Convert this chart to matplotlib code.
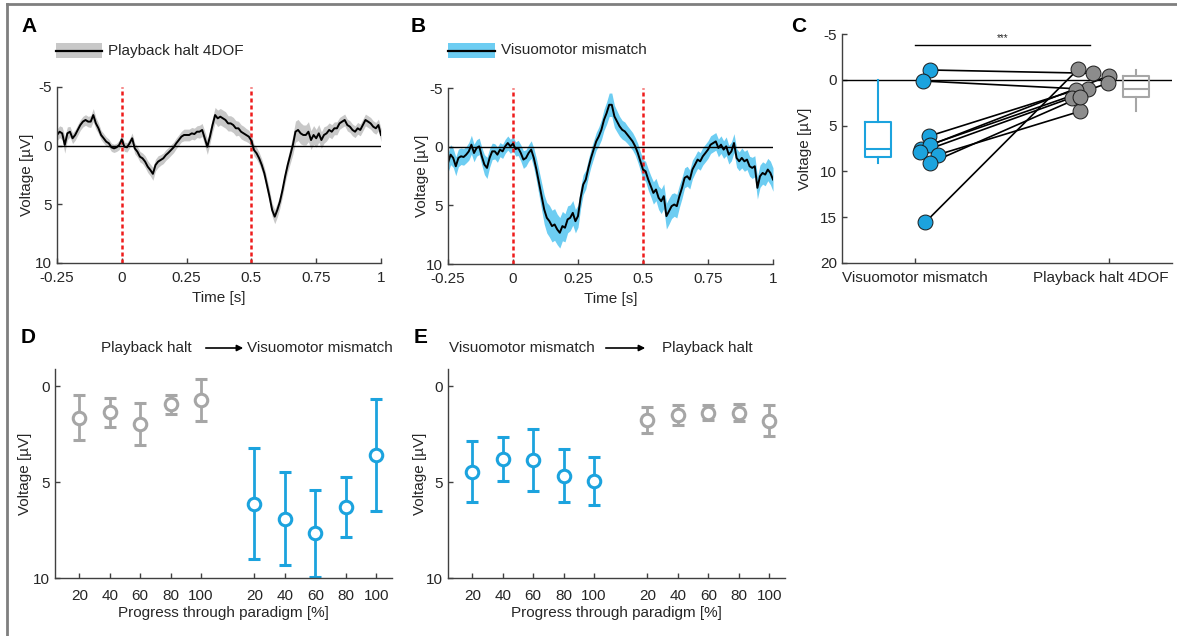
import numpy as np
import matplotlib
matplotlib.use("Agg")
import matplotlib.pyplot as plt
import matplotlib.transforms as mtransforms
from matplotlib.lines import Line2D
from matplotlib.patches import Rectangle, FancyArrowPatch

plt.rcParams["font.family"] = ["Liberation Sans", "DejaVu Sans"]
plt.rcParams["font.size"] = 11
plt.rcParams["axes.unicode_minus"] = False

# ---- panel A / B traces (uV, sampled every 10 ms from -0.25 to 1.0 s) ----
time_start, time_stop, time_step = -0.25, 1.0, 0.01

playback_mean = [
    -0.91, -1.19, -1.05, -0.06, -1.05, -1.19, -0.63, -0.91, -1.34, -1.76,
    -2.05, -2.19, -2.05, -2.05, -2.61, -1.90, -1.48, -0.91, -0.63, -0.34,
    -0.20, 0.14, 0.23, 0.14, -0.06, -0.54, 0.09, 0.14, -0.20, -0.63,
    0.23, 0.51, 0.94, 1.08, 1.36, 1.79, 2.07, 2.40, 1.65, 1.36,
    1.22, 1.08, 0.80, 0.60, 0.37, 0.14, -0.20, -0.48, -0.77, -0.91,
    -0.91, -0.91, -1.05, -0.99, -1.19, -1.19, -1.34, -0.63, 0.09, -0.77,
    -1.76, -2.61, -2.33, -2.47, -2.33, -2.19, -1.90, -1.90, -1.76, -1.48,
    -1.48, -1.19, -1.05, -0.91, -0.77, -0.43, 0.37, 0.65, 1.08, 1.65,
    2.36, 3.35, 4.35, 5.48, 6.05, 5.48, 4.77, 3.78, 2.64, 1.65,
    0.80, -0.06, -1.19, -1.34, -1.05, -0.91, -0.91, -1.19, -0.48, -0.91,
    -0.63, -1.05, -0.48, -0.91, -1.05, -1.34, -1.19, -1.48, -1.48, -1.90,
    -2.05, -2.19, -1.76, -1.62, -1.34, -1.19, -1.48, -1.34, -1.76, -2.19,
    -2.05, -1.90, -1.62, -1.48, -1.76, -0.91,
]
playback_sem = [
    0.50, 0.50, 0.55, 0.70, 0.55, 0.45, 0.45, 0.45, 0.45, 0.45,
    0.45, 0.45, 0.45, 0.50, 0.55, 0.50, 0.45, 0.40, 0.40, 0.40,
    0.35, 0.35, 0.35, 0.35, 0.40, 0.45, 0.40, 0.40, 0.40, 0.45,
    0.45, 0.45, 0.45, 0.45, 0.50, 0.50, 0.50, 0.55, 0.50, 0.50,
    0.45, 0.45, 0.45, 0.45, 0.45, 0.45, 0.45, 0.45, 0.45, 0.50,
    0.50, 0.50, 0.50, 0.50, 0.50, 0.55, 0.55, 0.60, 0.65, 0.60,
    0.60, 0.65, 0.70, 0.70, 0.70, 0.70, 0.65, 0.65, 0.65, 0.65,
    0.60, 0.60, 0.60, 0.55, 0.55, 0.50, 0.50, 0.50, 0.50, 0.50,
    0.50, 0.55, 0.55, 0.55, 0.60, 0.60, 0.55, 0.55, 0.55, 0.60,
    0.70, 0.80, 0.90, 0.90, 0.90, 0.85, 0.85, 0.85, 0.80, 0.80,
    0.75, 0.75, 0.70, 0.70, 0.65, 0.60, 0.60, 0.55, 0.55, 0.50,
    0.50, 0.50, 0.50, 0.50, 0.50, 0.50, 0.50, 0.50, 0.50, 0.50,
    0.50, 0.50, 0.50, 0.50, 0.50, 0.55,
]

mismatch_mean = [
    1.39, 0.68, 0.96, 1.67, 0.96, 0.82, 0.88, 0.68, 0.40, -0.17,
    0.54, 0.11, -0.03, 0.82, 1.53, 1.81, 0.96, 0.40, 0.40, 0.68,
    0.25, 0.40, -0.03, -0.31, -0.03, -0.25, 0.20, 0.11, 0.54, 1.10,
    0.96, 0.54, 0.25, 0.96, 1.95, 3.09, 4.22, 5.35, 6.06, 6.35,
    6.77, 6.63, 7.05, 7.34, 6.77, 6.91, 6.20, 6.06, 5.64, 6.35,
    5.92, 4.36, 3.23, 2.80, 1.81, 0.96, 0.25, -0.45, -0.88, -1.44,
    -2.29, -2.86, -3.57, -3.57, -2.58, -2.15, -1.73, -1.44, -1.30, -1.02,
    -0.74, -0.45, -0.03, 0.54, 1.25, 1.95, 2.10, 2.80, 3.37, 3.94,
    3.65, 4.36, 4.65, 4.22, 5.92, 5.50, 5.07, 4.93, 5.07, 4.22,
    3.51, 2.66, 2.52, 2.80, 1.95, 1.53, 1.10, 1.25, 0.82, 0.54,
    0.25, -0.17, -0.31, -0.45, 0.11, -0.17, 0.25, -0.03, 0.68, 0.40,
    -0.31, 0.96, 1.25, 0.96, 1.25, 1.10, 1.67, 1.81, 1.67, 3.51,
    2.52, 2.24, 2.38, 1.95, 2.24, 2.80,
]
mismatch_sem = [
    0.80, 0.85, 0.80, 0.80, 0.75, 0.70, 0.70, 0.70, 0.75, 0.80,
    0.75, 0.70, 0.70, 0.75, 0.85, 0.90, 0.80, 0.70, 0.65, 0.65,
    0.60, 0.60, 0.60, 0.60, 0.60, 0.60, 0.60, 0.65, 0.70, 0.75,
    0.70, 0.70, 0.75, 0.85, 0.95, 1.05, 1.15, 1.25, 1.30, 1.35,
    1.35, 1.35, 1.30, 1.30, 1.25, 1.20, 1.15, 1.10, 1.05, 1.00,
    0.95, 0.90, 0.85, 0.80, 0.75, 0.75, 0.75, 0.75, 0.80, 0.85,
    0.90, 0.95, 1.00, 1.00, 0.95, 0.90, 0.85, 0.80, 0.80, 0.75,
    0.75, 0.75, 0.75, 0.80, 0.80, 0.85, 0.85, 0.90, 0.90, 0.95,
    0.95, 1.00, 1.05, 1.05, 1.10, 1.10, 1.05, 1.00, 1.00, 0.95,
    0.90, 0.85, 0.85, 0.80, 0.80, 0.75, 0.75, 0.75, 0.75, 0.75,
    0.75, 0.75, 0.75, 0.75, 0.75, 0.75, 0.75, 0.80, 0.80, 0.80,
    0.80, 0.80, 0.80, 0.85, 0.85, 0.85, 0.85, 0.90, 0.90, 0.95,
    0.95, 0.95, 0.95, 0.95, 1.00, 1.00,
]

# ---- panel C: paired responses per animal ----
paired_vm = [-1.07, 0.13, 6.17, 7.52, 7.08, 7.92, 8.17, 9.08, 15.56]
paired_ph = [-0.71, 1.04, 1.11, -0.45, 0.35, 1.95, 3.44, 1.91, -1.18]
paired_vm_jitter = [0.079, 0.040, 0.070, 0.031, 0.079, 0.026, 0.120, 0.079, 0.053]
paired_ph_jitter = [-0.084, -0.110, -0.170, 0.002, -0.003, -0.192, -0.149, -0.149, -0.158]
# whislo, q1, median, q3, whishi
box_vm = [0.0, 4.61, 7.55, 8.43, 9.08]
box_ph = [-1.10, -0.45, 1.00, 1.91, 3.44]
categories_c = ["Visuomotor mismatch", "Playback halt 4DOF"]

# ---- panels D / E: responses across the session ----
progress = [20, 40, 60, 80, 100]
d_playback_mean = [1.65, 1.35, 1.96, 0.94, 0.73]
d_playback_err = [1.17, 0.76, 1.10, 0.50, 1.10]
d_mismatch_mean = [6.12, 6.90, 7.66, 6.31, 3.59]
d_mismatch_err = [2.90, 2.42, 2.27, 1.56, 2.93]
e_mismatch_mean = [4.45, 3.81, 3.85, 4.66, 4.94]
e_mismatch_err = [1.60, 1.14, 1.60, 1.40, 1.27]
e_playback_mean = [1.77, 1.49, 1.37, 1.37, 1.80]
e_playback_err = [0.67, 0.52, 0.37, 0.43, 0.80]

BLUE = "#1ca3de"
BAND_BLUE = "#6dcdf2"
GRAY = "#a6a6a6"
BAND_GRAY = "#c8c8c8"
DOT_GRAY = "#8c8c8c"
SPINE = "#404040"
TEXT = "#262626"

W, H = 1177, 636


def px(x, y):
    # pixel position (from top-left) to figure fraction
    return x / W, 1 - y / H


def style_axis(ax, xpad=5):
    for side in ["top", "right"]:
        ax.spines[side].set_visible(False)
    for side in ["left", "bottom"]:
        ax.spines[side].set_color(SPINE)
        ax.spines[side].set_linewidth(1.0)
    ax.tick_params(direction="in", length=3.5, width=1.0, color=SPINE,
                   labelsize=11, labelcolor=TEXT)
    ax.tick_params(axis="x", pad=xpad)


def add_axes(fig, left, top, right, bottom):
    x0, y0 = px(left, bottom)
    x1, y1 = px(right, top)
    return fig.add_axes([x0, y0, x1 - x0, y1 - y0])


def trace_panel(ax, mean, sem, band_color):
    t = np.round(np.arange(time_start, time_stop + time_step / 2, time_step), 2)
    mean = np.array(mean)
    sem = np.array(sem)
    ax.fill_between(t, mean - sem, mean + sem, color=band_color, lw=0)
    ax.axhline(0, color="black", lw=1.0)
    for onset in [0, 0.5]:
        ax.axvline(onset, color="#ee1c1c", lw=1.8, ls=(0, (1.6, 1.2)))
    ax.plot(t, mean, color="black", lw=1.4)
    ax.set_xlim(-0.25, 1.0)
    ax.set_ylim(10, -5)
    ax.set_xticks([-0.25, 0, 0.25, 0.5, 0.75, 1])
    ax.set_xticklabels(["-0.25", "0", "0.25", "0.5", "0.75", "1"])
    ax.set_yticks([-5, 0, 5, 10])
    ax.set_xlabel("Time [s]", color=TEXT)
    ax.set_ylabel("Voltage [µV]", color=TEXT)
    ax.xaxis.set_label_coords(0.5, -0.16)
    style_axis(ax, xpad=6)


def legend_swatch(fig, x0, x1, y, band_color, label):
    fx0, fy0 = px(x0, y + 7.5)
    fx1, fy1 = px(x1, y - 7.5)
    fig.add_artist(Rectangle((fx0, fy0), fx1 - fx0, fy1 - fy0,
                             transform=fig.transFigure, color=band_color, lw=0))
    lx0, ly = px(x0, y)
    lx1, _ = px(x1, y)
    fig.add_artist(Line2D([lx0, lx1], [ly, ly], transform=fig.transFigure,
                          color="black", lw=1.6))
    tx, _ = px(x1 + 6, y)
    fig.text(tx, ly, label, va="center", ha="left", fontsize=11, color=TEXT)


def progress_panel(ax, groups):
    for offset, mean, err, color in groups:
        x = np.arange(len(progress)) + 1 + offset
        ax.errorbar(x, mean, yerr=err, fmt="o", ms=9, mfc="white",
                    mec=color, mew=2.2, ecolor=color, elinewidth=2.0,
                    capsize=4.5, capthick=2.0, clip_on=True)
    ticks = list(np.arange(5) + 1) + list(np.arange(5) + 6.75)
    ax.set_xticks(ticks)
    ax.set_xticklabels([str(p) for p in progress] * 2)
    ax.set_xlim(0.2, 11.27)
    ax.set_ylim(10, -0.9)
    ax.set_yticks([0, 5, 10])
    ax.set_xlabel("Progress through paradigm [%]", color=TEXT)
    ax.set_ylabel("Voltage [µV]", color=TEXT)
    ax.xaxis.set_label_coords(0.5, -0.135)
    style_axis(ax, xpad=8)


def header(fig, left_text, right_text, x_left_end, arrow_x0, arrow_x1, x_right_start, y):
    lx, ly = px(x_left_end, y)
    fig.text(lx, ly, left_text, ha="right", va="center", fontsize=11, color=TEXT)
    rx, _ = px(x_right_start, y)
    fig.text(rx, ly, right_text, ha="left", va="center", fontsize=11, color=TEXT)
    a0, _ = px(arrow_x0, y)
    a1, _ = px(arrow_x1, y)
    fig.add_artist(FancyArrowPatch(
        (a0, ly), (a1, ly), transform=fig.transFigure, arrowstyle="-|>",
        mutation_scale=9, color="black", lw=1.2))


fig = plt.figure(figsize=(W / 100, H / 100), dpi=100)

# outer frame (top and left edges only)
fx, fy = px(7, 4)
fig.add_artist(Line2D([fx, 1], [fy, fy], transform=fig.transFigure, color="#7f7f7f", lw=2))
fig.add_artist(Line2D([fx, fx], [0, fy], transform=fig.transFigure, color="#7f7f7f", lw=2))

# panel A
ax_a = add_axes(fig, 57, 87, 381, 263)
trace_panel(ax_a, playback_mean, playback_sem, BAND_GRAY)
ax_a.yaxis.set_label_coords(-0.071, 0.5)
legend_swatch(fig, 56, 102, 50.5, BAND_GRAY, "Playback halt 4DOF")

# panel B
ax_b = add_axes(fig, 448, 88, 773, 264)
trace_panel(ax_b, mismatch_mean, mismatch_sem, BAND_BLUE)
ax_b.yaxis.set_label_coords(-0.058, 0.5)
legend_swatch(fig, 448, 495, 50.5, BAND_BLUE, "Visuomotor mismatch")

# panel C
ax_c = add_axes(fig, 842, 34, 1172, 263)
ax_c.axhline(0, color="black", lw=1.0)
for vm, ph, jv, jp in zip(paired_vm, paired_ph, paired_vm_jitter, paired_ph_jitter):
    ax_c.plot([1 + jv, 2 + jp], [vm, ph], color="black", lw=1.2, zorder=3)
ax_c.scatter([1 + j for j in paired_vm_jitter], paired_vm, s=115, color=BLUE,
             edgecolors="#1a1a1a", linewidths=0.7, zorder=4)
ax_c.scatter([2 + j for j in paired_ph_jitter], paired_ph, s=115, color=DOT_GRAY,
             edgecolors="#1a1a1a", linewidths=0.7, zorder=4)
for stats_vals, pos, color in [(box_vm, 0.81, BLUE), (box_ph, 2.14, GRAY)]:
    stats = dict(zip(["whislo", "q1", "med", "q3", "whishi"], stats_vals))
    stats["fliers"] = []
    ax_c.bxp([stats], positions=[pos], widths=0.134, showcaps=False,
             showfliers=False,
             boxprops=dict(color=color, lw=1.5),
             whiskerprops=dict(color=color, lw=1.5),
             medianprops=dict(color=color, lw=1.5))
ax_c.plot([1.0, 1.9], [-3.76, -3.76], color="black", lw=1.0)
ax_c.text(1.45, -4.0, "***", ha="center", va="bottom", fontsize=7, color=TEXT)
ax_c.set_xlim(0.624, 2.325)
ax_c.set_ylim(20, -5)
ax_c.set_yticks([-5, 0, 5, 10, 15, 20])
ax_c.set_xticks([1, 2])
ax_c.set_xticklabels(categories_c)
ax_c.set_ylabel("Voltage [µV]", color=TEXT)
ax_c.yaxis.set_label_coords(-0.09, 0.5)
style_axis(ax_c, xpad=6)
# nudge the right category label a little to the left, as in the original
shift = mtransforms.ScaledTranslation(-8 / 100, 0, fig.dpi_scale_trans)
lab = ax_c.get_xticklabels()[1]
lab.set_transform(lab.get_transform() + shift)

# panel D
ax_d = add_axes(fig, 55, 369, 392, 578)
progress_panel(ax_d, [(0, d_playback_mean, d_playback_err, GRAY),
                      (5.75, d_mismatch_mean, d_mismatch_err, BLUE)])
ax_d.yaxis.set_label_coords(-0.068, 0.5)
header(fig, "Playback halt", "Visuomotor mismatch", 192, 203, 246, 247, 348)

# panel E
ax_e = add_axes(fig, 448, 369, 785, 578)
progress_panel(ax_e, [(0, e_mismatch_mean, e_mismatch_err, BLUE),
                      (5.75, e_playback_mean, e_playback_err, GRAY)])
ax_e.yaxis.set_label_coords(-0.062, 0.5)
header(fig, "Visuomotor mismatch", "Playback halt", 595, 603, 648, 662, 348)

# panel letters
for letter, x, y in [("A", 21, 27), ("B", 411, 27), ("C", 791, 27), ("D", 21, 337), ("E", 414, 337)]:
    lx, ly = px(x, y)
    fig.text(lx, ly, letter, fontsize=15, fontweight="bold", va="center", ha="left", color="black")

plt.savefig("out.png", dpi=100)
